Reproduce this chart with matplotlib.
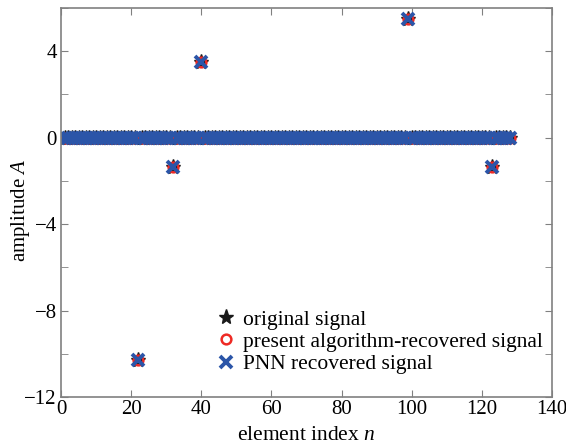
import matplotlib
matplotlib.use('Agg')
import matplotlib.pyplot as plt
import numpy as np
from matplotlib.ticker import MultipleLocator

plt.rcParams['font.family'] = ['Liberation Serif', 'DejaVu Serif']
plt.rcParams['mathtext.fontset'] = 'custom'
plt.rcParams['mathtext.it'] = 'Liberation Serif:italic'

# element index and spike positions
n = np.arange(1, 129)
spike_idx = [22, 32, 40, 99, 123]
orig_spikes = [-10.3, -1.35, 3.5, 5.5, -1.35]
present_spikes = [-10.3, -1.35, 3.5, 5.5, -1.35]
pnn_spikes = [-10.3, -1.35, 3.5, 5.5, -1.35]


def build(spikes):
    s = np.zeros(len(n))
    for k, v in zip(spike_idx, spikes):
        s[k - 1] = v
    return s


orig = build(orig_spikes)
present = build(present_spikes)
pnn = build(pnn_spikes)

fig = plt.figure(figsize=(5.66, 4.47), dpi=100)
ax = fig.add_axes([0.108, 0.112, 0.867, 0.87])

ax.plot(n, orig, linestyle='none', marker='*', color='#1a1a1a', markersize=11,
        label='original signal')
ax.plot(n, present, linestyle='none', marker='o', markerfacecolor='none',
        markeredgecolor='#ee2a24', markeredgewidth=1.8, markersize=7,
        label='present algorithm-recovered signal')
ax.plot(n, pnn, linestyle='none', marker='x', color='#2b55a8', markeredgewidth=2.8,
        markersize=8, label='PNN recovered signal')

ax.set_xlim(0, 140)
ax.set_ylim(-12, 6)
ax.xaxis.set_major_locator(MultipleLocator(20))
ax.yaxis.set_major_locator(MultipleLocator(4))
ax.yaxis.set_minor_locator(MultipleLocator(2))
ax.tick_params(which='both', direction='in', top=True, right=True, labelsize=15,
               color='#808080')
ax.tick_params(axis='x', pad=2)
ax.tick_params(axis='y', pad=3)
ax.tick_params(which='major', length=5)
ax.tick_params(which='minor', length=5)
for sp in ax.spines.values():
    sp.set_color('#808080')
    sp.set_linewidth(1.2)

ax.set_xlabel('element index $n$', fontsize=15.5, va='center')
ax.xaxis.set_label_coords(0.5, -0.098)
ax.set_ylabel('amplitude $A$', fontsize=15, va='center')
ax.yaxis.set_label_coords(-0.082, 0.48)

ax.legend(loc='lower center', bbox_to_anchor=(0.645, 0.02), frameon=False, fontsize=15.5,
          handletextpad=0.2, labelspacing=0.1, handlelength=1.2, borderpad=0.2)

fig.savefig('out.png', dpi=100)
